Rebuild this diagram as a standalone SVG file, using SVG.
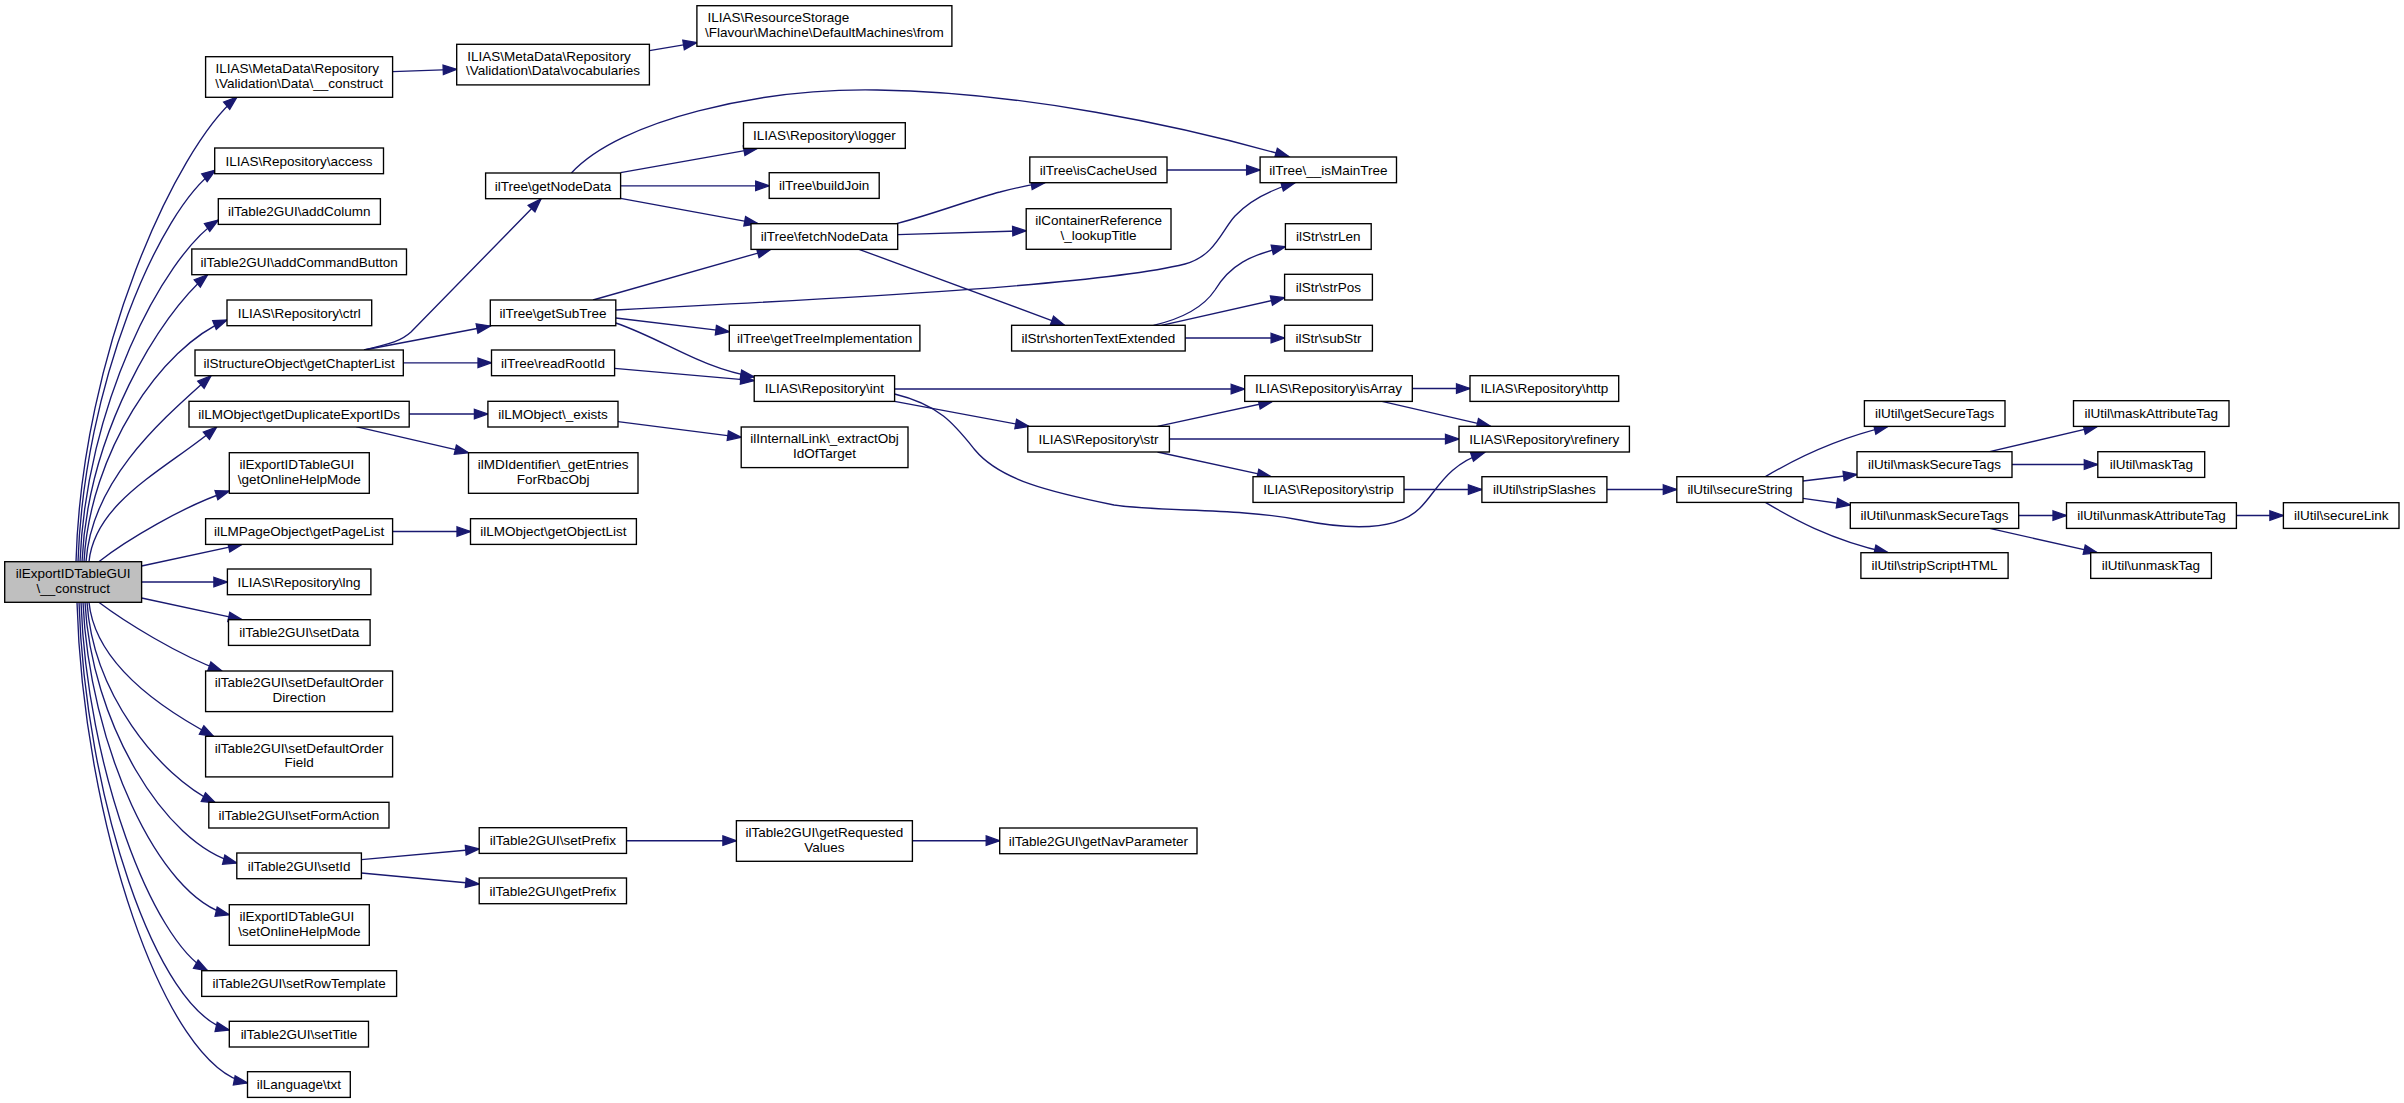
<svg xmlns="http://www.w3.org/2000/svg" width="2404" height="1103" viewBox="0 0 2404 1103">
<defs>
<marker id="a" markerUnits="userSpaceOnUse" markerWidth="16" markerHeight="12" refX="13.5" refY="4.75" orient="auto" overflow="visible">
<path d="M0,0 L13.5,4.75 L0,9.5 z" fill="#191970" stroke="#191970" stroke-width="1.3"/>
</marker>
</defs>
<style>
.n rect{fill:#ffffff;stroke:#000000;stroke-width:1.35}
.m rect{fill:#bfbfbf;stroke:#000000;stroke-width:1.35}
text{font-family:"Liberation Sans",Arial,Helvetica,sans-serif;font-size:13.5px;fill:#000000;text-anchor:middle}
text.s{text-anchor:start}
.e path{fill:none;stroke:#191970;stroke-width:1.35;marker-end:url(#a)}
</style>
<rect x="0" y="0" width="2404" height="1103" fill="#ffffff"/>
<g class="e" id="edges">
<path d="M76,561.7 C82,352.6 175.3,148.8 237,97"/>
<path d="M78,561.7 C84,385.4 159.2,209.5 215.5,170"/>
<path d="M80,561.7 C86,407.9 160.9,258.7 218.3,220"/>
<path d="M82,561.7 C88,432.5 159.5,315.1 207.6,274.7"/>
<path d="M84,561.7 C90,452.9 160.7,346.8 227,320"/>
<path d="M86,561.7 C92,478 164.6,417.5 211,375.7"/>
<path d="M89,561.7 C95,501.1 167.8,468.1 216.7,427"/>
<path d="M98.8,561.7 C125,541 185,505 229.3,491"/>
<path d="M141.6,566 L242,544.4"/>
<path d="M141.6,582 L227.4,582"/>
<path d="M141.6,598 L242,619.7"/>
<path d="M98.8,602.3 C125,622 178,655 222,671"/>
<path d="M89,602.3 C95,662.6 158.5,707.1 213.5,736.3"/>
<path d="M87,602.3 C93,692.6 157.7,774.9 215.5,803"/>
<path d="M85,602.3 C91,719.6 163.2,844.6 236.8,863"/>
<path d="M83,602.3 C89,742.9 158,898.2 229.3,914.7"/>
<path d="M81,602.3 C87,768.1 152.2,940 207.6,970.7"/>
<path d="M79,602.3 C85,794.8 156.1,1013.1 229.3,1030"/>
<path d="M77,602.3 C83,818.6 163.8,1066.7 247.5,1083"/>
<path d="M392.6,71.7 L456.7,69.3"/>
<path d="M649.4,50.7 L696.9,42.7"/>
<path d="M364,350 C388,344 400,342 411,332 L541,199"/>
<path d="M364,350 L490.3,326"/>
<path d="M403.3,362.8 L491.5,362.8"/>
<path d="M409.2,414 L487.9,414"/>
<path d="M356,426.7 L468.5,452.7"/>
<path d="M392.6,531.5 L470.5,531.5"/>
<path d="M571.4,173 C620,120 760,88 877,90 C1020,92 1180,125 1289,156.7"/>
<path d="M620.6,172.7 L757.4,148.4"/>
<path d="M620.6,185.8 L769.2,185.8"/>
<path d="M620.6,198.3 L758,223.7"/>
<path d="M593,300 L770.8,249.4"/>
<path d="M615.8,310 C850,298 1100,285 1185,264 C1215,256 1222,230 1235,216 C1250,200 1270,190 1295,182.7"/>
<path d="M615.8,318 L729.3,331.7"/>
<path d="M615.8,323 C665,340 700,368 754.2,377"/>
<path d="M614.6,368.3 L754.2,380.7"/>
<path d="M618,421.7 L741.2,437.3"/>
<path d="M896.5,223.7 C940,212 975,198 1000,192 C1015,188 1030,185 1044.8,182.7"/>
<path d="M897.7,234.7 L1026.2,230.7"/>
<path d="M859,249.3 L1064.6,325.3"/>
<path d="M1167,170 L1260.1,170"/>
<path d="M1153.5,325.3 C1185,318 1205,305 1215,290 C1230,265 1250,255 1285.4,246.7"/>
<path d="M1161.5,325.3 L1284.6,297.7"/>
<path d="M1185.2,338 L1284.6,338"/>
<path d="M894.6,389 L1244.7,389"/>
<path d="M894.6,401.3 L1029,426.5"/>
<path d="M894.6,394 C940,405 955,425 975,450 C1000,480 1050,492 1114,505 C1160,512 1240,508 1300,520 C1360,532 1400,528 1420,508 C1438,490 1445,466 1484.7,452.3"/>
<path d="M1157.5,426.3 L1272.4,401.4"/>
<path d="M1169.4,439 L1459,439"/>
<path d="M1157.5,452 L1271,476.7"/>
<path d="M1412.3,388.5 L1470,388.5"/>
<path d="M1382,401.4 L1490.6,426.3"/>
<path d="M1404,489.5 L1481.9,489.5"/>
<path d="M1606.9,489.5 L1676.8,489.5"/>
<path d="M1765.4,476.7 C1790,462 1830,440 1887.9,426.4"/>
<path d="M1803,481 L1857,474.5"/>
<path d="M1803,498.3 L1850.3,505"/>
<path d="M1765.4,502.4 C1790,517 1830,540 1888,552.7"/>
<path d="M1989.7,451.7 L2097.4,426.4"/>
<path d="M2012,464.5 L2097.8,464.5"/>
<path d="M2018.7,515.5 L2066.5,515.5"/>
<path d="M1989.7,528.4 L2097.4,552.7"/>
<path d="M2236.4,515.5 L2283.4,515.5"/>
<path d="M361.4,859.7 L479.2,849"/>
<path d="M361.4,873 L479.2,884"/>
<path d="M626.5,840.7 L736.4,840.7"/>
<path d="M912.4,840.7 L999.7,840.7"/>
</g>
<g class="m" id="n_main"><rect x="4.7" y="561.7" width="136.9" height="40.6"/><text x="73.2" y="577.9">ilExportIDTableGUI</text><text x="73.2" y="592.8">\__construct</text></g>
<g class="n" id="n_mdconstruct"><rect x="205.6" y="56.7" width="187" height="40.6"/><text class="s" x="215.5" y="72.9">ILIAS\MetaData\Repository</text><text x="299.1" y="87.8">\Validation\Data\__construct</text></g>
<g class="n" id="n_access"><rect x="214.7" y="148" width="168.8" height="25.7"/><text x="299.1" y="165.6">ILIAS\Repository\access</text></g>
<g class="n" id="n_addColumn"><rect x="218.3" y="198.7" width="162.1" height="25.7"/><text x="299.3" y="216.3">ilTable2GUI\addColumn</text></g>
<g class="n" id="n_addCommandButton"><rect x="191.8" y="249" width="214.7" height="25.7"/><text x="299.1" y="266.6">ilTable2GUI\addCommandButton</text></g>
<g class="n" id="n_ctrl"><rect x="227" y="300" width="144.7" height="25.7"/><text x="299.3" y="317.6">ILIAS\Repository\ctrl</text></g>
<g class="n" id="n_getChapterList"><rect x="195" y="350" width="208.3" height="25.7"/><text x="299.1" y="367.6">ilStructureObject\getChapterList</text></g>
<g class="n" id="n_getDuplicateExportIDs"><rect x="189" y="401.3" width="220.2" height="25.7"/><text x="299.1" y="418.9">ilLMObject\getDuplicateExportIDs</text></g>
<g class="n" id="n_getOnlineHelpMode"><rect x="229.3" y="452.7" width="140" height="40.6"/><text class="s" x="239.4" y="468.9">ilExportIDTableGUI</text><text x="299.3" y="483.8">\getOnlineHelpMode</text></g>
<g class="n" id="n_getPageList"><rect x="205.6" y="518.7" width="187" height="25.7"/><text x="299.1" y="536.3">ilLMPageObject\getPageList</text></g>
<g class="n" id="n_lng"><rect x="227.4" y="569" width="143.5" height="25.7"/><text x="299.1" y="586.6">ILIAS\Repository\lng</text></g>
<g class="n" id="n_setData"><rect x="228.5" y="619.7" width="141.6" height="25.7"/><text x="299.3" y="637.3">ilTable2GUI\setData</text></g>
<g class="n" id="n_setDefaultOrderDirection"><rect x="205.6" y="671" width="187" height="40.6"/><text x="299.1" y="687.2">ilTable2GUI\setDefaultOrder</text><text x="299.1" y="702.1">Direction</text></g>
<g class="n" id="n_setDefaultOrderField"><rect x="205.6" y="736.3" width="187" height="40.6"/><text x="299.1" y="752.5">ilTable2GUI\setDefaultOrder</text><text x="299.1" y="767.4">Field</text></g>
<g class="n" id="n_setFormAction"><rect x="208.8" y="802.3" width="180.2" height="25.7"/><text x="298.9" y="819.9">ilTable2GUI\setFormAction</text></g>
<g class="n" id="n_setId"><rect x="236.8" y="853" width="124.6" height="25.7"/><text x="299.1" y="870.6">ilTable2GUI\setId</text></g>
<g class="n" id="n_setOnlineHelpMode"><rect x="229.3" y="904.7" width="140" height="40.6"/><text class="s" x="239.4" y="920.9">ilExportIDTableGUI</text><text x="299.3" y="935.8">\setOnlineHelpMode</text></g>
<g class="n" id="n_setRowTemplate"><rect x="201.7" y="970.7" width="194.9" height="25.7"/><text x="299.1" y="988.3">ilTable2GUI\setRowTemplate</text></g>
<g class="n" id="n_setTitle"><rect x="229.3" y="1021.3" width="139.2" height="25.7"/><text x="298.9" y="1038.9">ilTable2GUI\setTitle</text></g>
<g class="n" id="n_txt"><rect x="247.5" y="1071.7" width="102.8" height="25.7"/><text x="298.9" y="1089.3">ilLanguage\txt</text></g>
<g class="n" id="n_vocabularies"><rect x="456.7" y="44.3" width="192.7" height="40.6"/><text class="s" x="467.3" y="60.5">ILIAS\MetaData\Repository</text><text x="553" y="75.4">\Validation\Data\vocabularies</text></g>
<g class="n" id="n_getNodeData"><rect x="485.6" y="173" width="135" height="25.7"/><text x="553.1" y="190.6">ilTree\getNodeData</text></g>
<g class="n" id="n_getSubTree"><rect x="490.3" y="300" width="125.5" height="25.7"/><text x="553" y="317.6">ilTree\getSubTree</text></g>
<g class="n" id="n_readRootId"><rect x="491.5" y="350" width="123.1" height="25.7"/><text x="553" y="367.6">ilTree\readRootId</text></g>
<g class="n" id="n_exists"><rect x="487.9" y="401.3" width="130.1" height="25.7"/><text x="553" y="418.9">ilLMObject\_exists</text></g>
<g class="n" id="n_getEntries"><rect x="468.5" y="452.7" width="169.5" height="40.6"/><text x="553.2" y="468.9">ilMDIdentifier\_getEntries</text><text x="553.2" y="483.8">ForRbacObj</text></g>
<g class="n" id="n_getObjectList"><rect x="470.5" y="518.7" width="165.9" height="25.7"/><text x="553.4" y="536.3">ilLMObject\getObjectList</text></g>
<g class="n" id="n_setPrefix"><rect x="479.2" y="827.7" width="147.3" height="25.7"/><text x="552.9" y="845.3">ilTable2GUI\setPrefix</text></g>
<g class="n" id="n_getPrefix"><rect x="479.2" y="878" width="147.3" height="25.7"/><text x="552.9" y="895.6">ilTable2GUI\getPrefix</text></g>
<g class="n" id="n_from"><rect x="696.9" y="5.7" width="255" height="40.6"/><text class="s" x="707.4" y="21.9">ILIAS\ResourceStorage</text><text x="824.4" y="36.8">\Flavour\Machine\DefaultMachines\from</text></g>
<g class="n" id="n_logger"><rect x="743.5" y="122.7" width="161.8" height="25.7"/><text x="824.4" y="140.3">ILIAS\Repository\logger</text></g>
<g class="n" id="n_buildJoin"><rect x="769.2" y="172.7" width="110" height="25.7"/><text x="824.2" y="190.3">ilTree\buildJoin</text></g>
<g class="n" id="n_fetchNodeData"><rect x="751" y="223.7" width="146.7" height="25.7"/><text x="824.4" y="241.3">ilTree\fetchNodeData</text></g>
<g class="n" id="n_getTreeImplementation"><rect x="729.3" y="325.3" width="190.6" height="25.7"/><text x="824.6" y="342.9">ilTree\getTreeImplementation</text></g>
<g class="n" id="n_int"><rect x="754.2" y="375.7" width="140.4" height="25.7"/><text x="824.4" y="393.3">ILIAS\Repository\int</text></g>
<g class="n" id="n_extractObj"><rect x="741.2" y="427" width="166.8" height="40.6"/><text x="824.6" y="443.2">ilInternalLink\_extractObj</text><text x="824.6" y="458.1">IdOfTarget</text></g>
<g class="n" id="n_getRequestedValues"><rect x="736.4" y="820.7" width="176" height="40.6"/><text x="824.4" y="836.9">ilTable2GUI\getRequested</text><text x="824.4" y="851.8">Values</text></g>
<g class="n" id="n_isCacheUsed"><rect x="1029.8" y="157" width="137.2" height="25.7"/><text x="1098.4" y="174.6">ilTree\isCacheUsed</text></g>
<g class="n" id="n_lookupTitle"><rect x="1026.2" y="208.7" width="144.8" height="40.6"/><text x="1098.6" y="224.9">ilContainerReference</text><text x="1098.6" y="239.8">\_lookupTitle</text></g>
<g class="n" id="n_shortenTextExtended"><rect x="1011.6" y="325.3" width="173.6" height="25.7"/><text x="1098.4" y="342.9">ilStr\shortenTextExtended</text></g>
<g class="n" id="n_str"><rect x="1027.8" y="426.3" width="141.6" height="25.7"/><text x="1098.6" y="443.9">ILIAS\Repository\str</text></g>
<g class="n" id="n_getNavParameter"><rect x="999.7" y="828" width="197.3" height="25.7"/><text x="1098.4" y="845.6">ilTable2GUI\getNavParameter</text></g>
<g class="n" id="n_isMainTree"><rect x="1260.1" y="157" width="136.4" height="25.7"/><text x="1328.3" y="174.6">ilTree\__isMainTree</text></g>
<g class="n" id="n_strLen"><rect x="1285.4" y="223.7" width="85.8" height="25.7"/><text x="1328.3" y="241.3">ilStr\strLen</text></g>
<g class="n" id="n_strPos"><rect x="1284.6" y="274.3" width="87.8" height="25.7"/><text x="1328.5" y="291.9">ilStr\strPos</text></g>
<g class="n" id="n_subStr"><rect x="1284.6" y="325.3" width="87.8" height="25.7"/><text x="1328.5" y="342.9">ilStr\subStr</text></g>
<g class="n" id="n_isArray"><rect x="1244.7" y="375.7" width="167.6" height="25.7"/><text x="1328.5" y="393.3">ILIAS\Repository\isArray</text></g>
<g class="n" id="n_strip"><rect x="1253" y="476.7" width="151" height="25.7"/><text x="1328.5" y="494.3">ILIAS\Repository\strip</text></g>
<g class="n" id="n_http"><rect x="1470" y="375.7" width="148.7" height="25.7"/><text x="1544.4" y="393.3">ILIAS\Repository\http</text></g>
<g class="n" id="n_refinery"><rect x="1459" y="426.3" width="170.4" height="25.7"/><text x="1544.2" y="443.9">ILIAS\Repository\refinery</text></g>
<g class="n" id="n_stripSlashes"><rect x="1481.9" y="476.7" width="125" height="25.7"/><text x="1544.4" y="494.3">ilUtil\stripSlashes</text></g>
<g class="n" id="n_secureString"><rect x="1676.8" y="476.7" width="126.2" height="25.7"/><text x="1739.9" y="494.3">ilUtil\secureString</text></g>
<g class="n" id="n_getSecureTags"><rect x="1864.4" y="400.7" width="140.6" height="25.7"/><text x="1934.7" y="418.3">ilUtil\getSecureTags</text></g>
<g class="n" id="n_maskSecureTags"><rect x="1857" y="451.7" width="155" height="25.7"/><text x="1934.5" y="469.3">ilUtil\maskSecureTags</text></g>
<g class="n" id="n_unmaskSecureTags"><rect x="1850.3" y="502.7" width="168.4" height="25.7"/><text x="1934.5" y="520.3">ilUtil\unmaskSecureTags</text></g>
<g class="n" id="n_stripScriptHTML"><rect x="1860.9" y="552.7" width="147.2" height="25.7"/><text x="1934.5" y="570.3">ilUtil\stripScriptHTML</text></g>
<g class="n" id="n_maskAttributeTag"><rect x="2073.5" y="400.7" width="155.5" height="25.7"/><text x="2151.3" y="418.3">ilUtil\maskAttributeTag</text></g>
<g class="n" id="n_maskTag"><rect x="2097.8" y="451.7" width="106.9" height="25.7"/><text x="2151.3" y="469.3">ilUtil\maskTag</text></g>
<g class="n" id="n_unmaskAttributeTag"><rect x="2066.5" y="502.7" width="169.9" height="25.7"/><text x="2151.5" y="520.3">ilUtil\unmaskAttributeTag</text></g>
<g class="n" id="n_unmaskTag"><rect x="2090.7" y="552.7" width="120.7" height="25.7"/><text x="2151" y="570.3">ilUtil\unmaskTag</text></g>
<g class="n" id="n_secureLink"><rect x="2283.4" y="502.7" width="115.6" height="25.7"/><text x="2341.2" y="520.3">ilUtil\secureLink</text></g>
</svg>
